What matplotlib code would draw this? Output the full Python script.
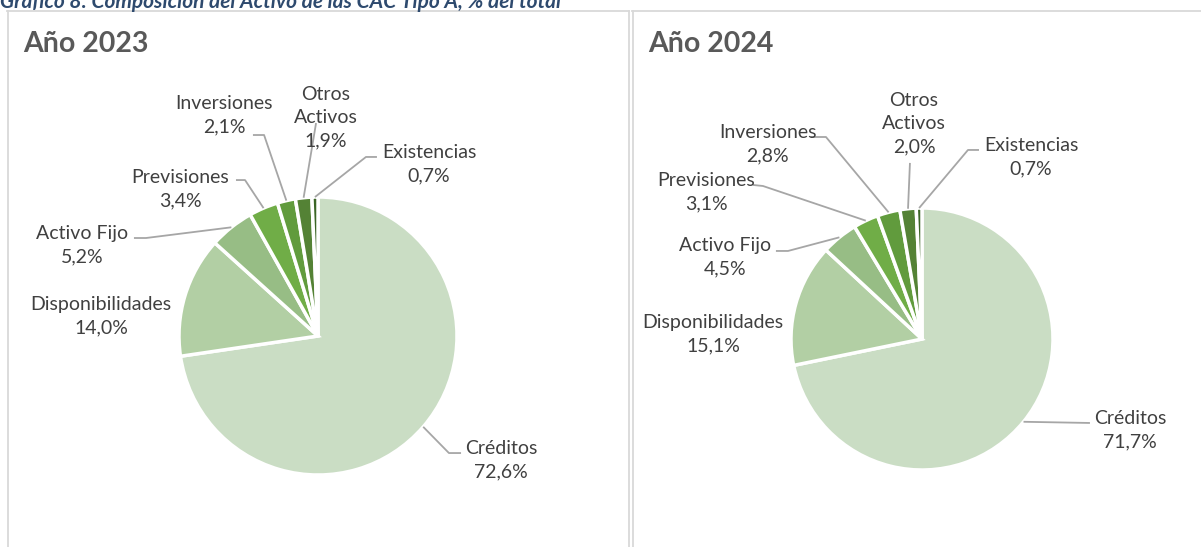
import matplotlib.pyplot as plt
from matplotlib.lines import Line2D
import numpy as np

# data
categories = ['Créditos', 'Disponibilidades', 'Activo Fijo', 'Previsiones',
              'Inversiones', 'Otros\nActivos', 'Existencias']
values_2023 = [72.6, 14.0, 5.2, 3.4, 2.1, 1.9, 0.7]
values_2024 = [71.7, 15.1, 4.5, 3.1, 2.8, 2.0, 0.7]
panel_titles = ['Año 2023', 'Año 2024']
chart_title = 'Gráfico 8: Composición del Activo de las CAC Tipo A, % del total'

colors = ['#CADDC4', '#B2CFA4', '#97BD85', '#70AD47', '#619B3D', '#548235', '#3B6526']

W, H = 1201, 547
FONT = 'Lato'
TEXT = '#404040'
BORDER = '#D9D9D9'

# label centres, in pie radius units (layout only)
label_pos_2023 = [(1.317, -0.892), (-1.561, 0.140), (-1.698, 0.655), (-0.993, 1.058),
                  (-0.676, 1.590), (0.058, 1.572), (0.799, 1.237)]
label_pos_2024 = [(1.588, -0.695), (-1.595, 0.038), (-1.504, 0.626), (-1.649, 1.122),
                  (-1.176, 1.485), (-0.061, 1.644), (0.832, 1.385)]

# leader lines: label side start point and elbow (None = no leader)
leaders_2023 = [[(1.029, -0.842), (0.942, -0.842)], None,
                [(-1.324, 0.705), (-1.237, 0.705)], [(-0.590, 1.122), (-0.525, 1.122)],
                [(-0.468, 1.446), (-0.388, 1.446)], [(-0.014, 1.532)],
                [(0.424, 1.288), (0.345, 1.288)]]
leaders_2024 = [[(1.282, -0.641)], None,
                [(-1.115, 0.672), (-1.023, 0.672)], [(-1.290, 1.176), (-1.214, 1.168)],
                [(-0.847, 1.542), (-0.733, 1.542)], [(-0.092, 1.344)],
                [(0.435, 1.443), (0.351, 1.443)]]


def fmt(v):
    return f'{v:.1f}'.replace('.', ',') + '%'


def draw_pie(fig, box, center, radius, values, label_pos, leaders, title):
    # box is (x0, y0, x1, y1) in pixels from the top left
    x0, y0, x1, y1 = box
    ax = fig.add_axes([x0 / W, 1 - y1 / H, (x1 - x0) / W, (y1 - y0) / H])
    wedges, _ = ax.pie(values, colors=colors, startangle=90, counterclock=False,
                       radius=1, wedgeprops=dict(edgecolor='white', linewidth=2.5))
    cx, cy = center
    ax.set_xlim((x0 - cx) / radius, (x1 - cx) / radius)
    ax.set_ylim((cy - y1) / radius, (cy - y0) / radius)
    ax.set_aspect('auto')
    ax.axis('off')

    for i, w in enumerate(wedges):
        lx, ly = label_pos[i]
        ax.text(lx, ly, categories[i] + '\n' + fmt(values[i]), ha='center', va='center',
                fontsize=14, family=FONT, color=TEXT, linespacing=1.45, clip_on=False)
        if leaders[i] is None:
            continue
        theta = np.deg2rad((w.theta1 + w.theta2) / 2)
        pts = leaders[i] + [(np.cos(theta), np.sin(theta))]
        ax.plot([p[0] for p in pts], [p[1] for p in pts], color='#A6A6A6', lw=1.3,
                clip_on=False, solid_capstyle='butt')

    fig.text((x0 + 15) / W, 1 - 52 / H, title, fontsize=20.5, fontweight='bold',
             family=FONT, color='#595959', va='baseline')


fig = plt.figure(figsize=(W / 100, H / 100), dpi=100)

# panel frames
def vline(x, ya, yb):
    fig.add_artist(Line2D([x / W, x / W], [1 - ya / H, 1 - yb / H], color=BORDER, lw=1.3))

def hline(y, xa, xb):
    fig.add_artist(Line2D([xa / W, xb / W], [1 - y / H, 1 - y / H], color=BORDER, lw=1.3))

vline(7.5, 11, H)
vline(629, 11, H)
hline(11, 7, 629)
vline(632.5, 11, H)
hline(11, 632, W)

draw_pie(fig, (8, 12, 628, H), (318, 336), 139, values_2023, label_pos_2023,
         leaders_2023, panel_titles[0])
draw_pie(fig, (633, 12, W, H), (922, 339), 131, values_2024, label_pos_2024,
         leaders_2024, panel_titles[1])

# chart caption, cut at the top edge like the source
fig.text(0, 1 - 8 / H, chart_title, fontsize=15, fontweight='bold', style='italic',
         family=FONT, color='#2E4A6E', va='baseline')

fig.savefig('out.png', dpi=100)
